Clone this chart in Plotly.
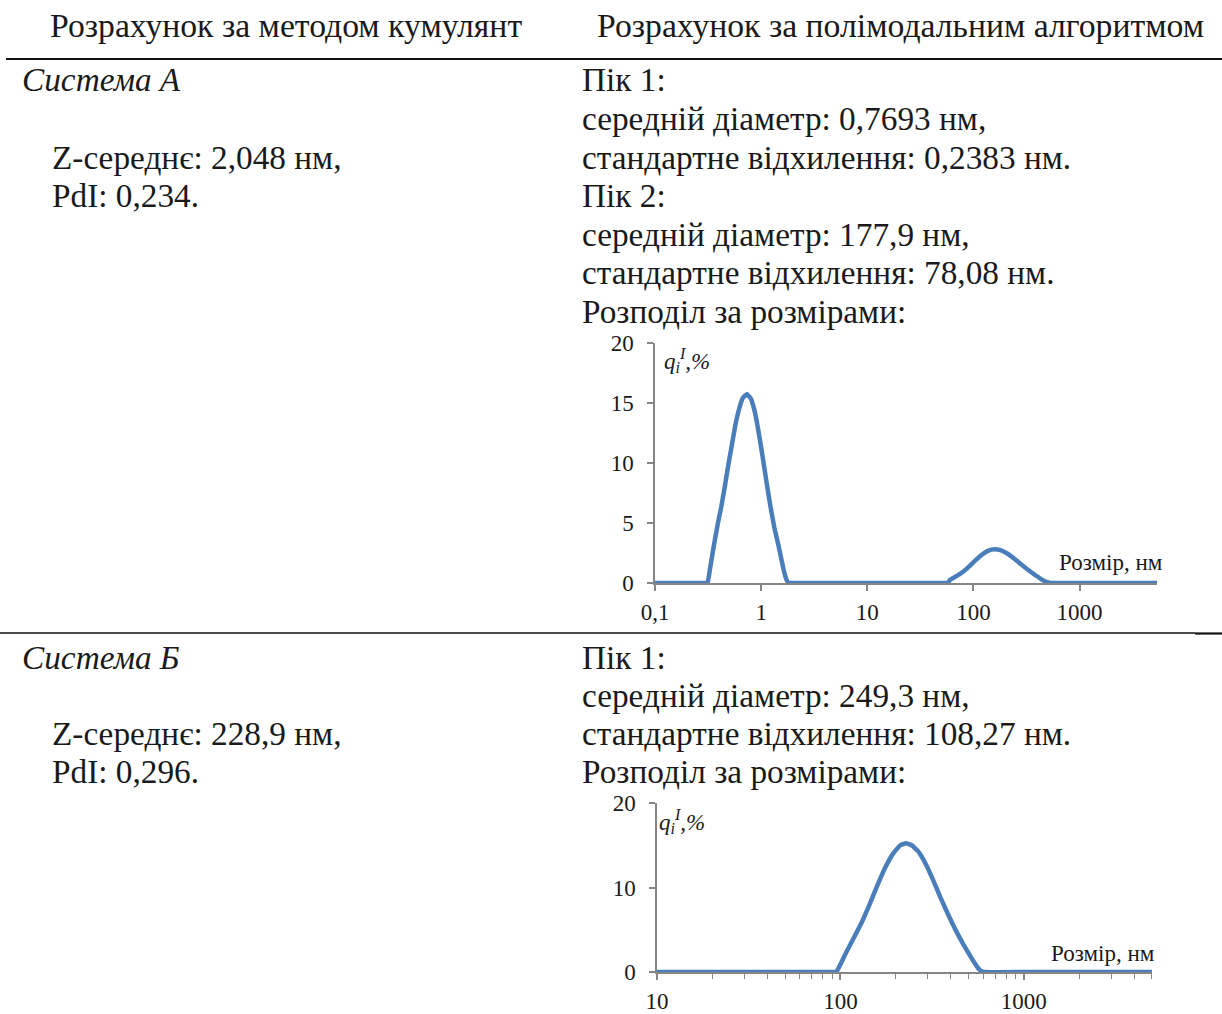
import plotly.graph_objects as go

# ---------------- data ----------------
size_a = [0.1, 0.2, 0.3, 0.313, 0.33, 0.36, 0.39, 0.42, 0.45, 0.49, 0.53, 0.57, 0.62, 0.67,
          0.735, 0.80, 0.87, 0.95, 1.03, 1.12, 1.22, 1.33, 1.45, 1.55, 1.65, 1.74, 1.82, 2, 10,
          50, 57.5, 60, 70, 80, 92, 105, 120, 138, 158, 180, 210, 245, 285, 330, 380, 430,
          480, 530, 1000, 5370]
q_a = [0, 0, 0, 0, 1.2, 3.2, 4.9, 6.3, 7.8, 9.8, 11.5, 13.1, 14.5, 15.4,
       15.75, 15.36, 14.3, 12.5, 10.6, 8.5, 6.45, 4.65, 3.2, 2.0, 0.9, 0.25, 0, 0, 0,
       0, 0, 0.25, 0.59, 0.94, 1.41, 1.9, 2.36, 2.7, 2.82, 2.74, 2.44, 2.0, 1.52, 1.07, 0.68, 0.35,
       0.12, 0, 0, 0]

size_b = [10, 50, 90, 95, 100, 108, 118, 130, 143, 158, 175, 195, 212, 228, 245, 265, 290,
          320, 350, 385, 425, 470, 510, 545, 575, 605, 1000, 5000]
q_b = [0, 0, 0, 0, 0.9, 2.4, 4.0, 5.77, 7.8, 10.1, 12.3, 14.1, 15.0, 15.25, 15.0, 14.3, 12.9,
       10.9, 8.9, 6.9, 4.95, 3.2, 1.9, 0.9, 0.25, 0, 0, 0]

xtick_a_vals = [0.1, 1, 10, 100, 1000]
xtick_a_text = ["0,1", "1", "10", "100", "1000"]
ytick_a = [0, 5, 10, 15, 20]
xtick_b_vals = [10, 100, 1000]
xtick_b_text = ["10", "100", "1000"]
xminor_b = [20, 30, 40, 50, 60, 70, 80, 90, 200, 300, 400, 500, 600, 700, 800, 900,
            2000, 3000, 4000, 5000]
ytick_b = [0, 10, 20]

header_left = "Розрахунок за методом кумулянт"
header_right = "Розрахунок за полімодальним алгоритмом"
sys_a = "Система А"
sys_b = "Система Б"
left_a = ["Z-середнє: 2,048 нм,", "PdI: 0,234."]
left_b = ["Z-середнє: 228,9 нм,", "PdI: 0,296."]
right_a = ["Пік 1:", "середній діаметр: 0,7693 нм,", "стандартне відхилення: 0,2383 нм.",
           "Пік 2:", "середній діаметр: 177,9 нм,", "стандартне відхилення: 78,08 нм.",
           "Розподіл за розмірами:"]
right_b = ["Пік 1:", "середній діаметр: 249,3 нм,", "стандартне відхилення: 108,27 нм.",
           "Розподіл за розмірами:"]
xlabel = "Розмір, нм"
ylabel = "q<sub>i</sub><sup>I</sup>,%"

# ---------------- layout helpers ----------------
W, H = 1222, 1014
SERIF = "Liberation Serif"
TXT = "#1a1a1a"
BLUE = "#4A7EBB"
GRAY = "#868686"
FS = 33.3
FS_HEAD = 33.7


def px(x):
    return x / W


def py(y):
    return 1 - y / H


fig = go.Figure()
fig.add_trace(go.Scatter(x=size_a, y=q_a, mode="lines",
                         line=dict(color=BLUE, width=4.5, shape="spline", smoothing=0.3),
                         xaxis="x", yaxis="y", showlegend=False, hoverinfo="skip"))
fig.add_trace(go.Scatter(x=size_b, y=q_b, mode="lines",
                         line=dict(color=BLUE, width=4.5, shape="spline", smoothing=0.3),
                         xaxis="x2", yaxis="y2", showlegend=False, hoverinfo="skip"))

ann = []


def text(x, y, s, size=FS, italic=False, anchor="left"):
    ann.append(dict(x=px(x), y=py(y), xref="paper", yref="paper", text=s, showarrow=False,
                    xanchor=anchor, yanchor="middle",
                    font=dict(family=SERIF, size=size, color=TXT,
                              style="italic" if italic else "normal")))


text(48, 25, header_left, size=FS_HEAD)
text(595, 25, header_right, size=FS_HEAD)
text(20, 80, sys_a, italic=True)
for i, s in enumerate(left_a):
    text(50, 157 + i * 38.6, s)
for i, s in enumerate(right_a):
    text(580, 80 + i * 38.6, s)
text(20, 657, sys_b, italic=True)
for i, s in enumerate(left_b):
    text(50, 733 + i * 38.3, s)
for i, s in enumerate(right_b):
    text(580, 657 + i * 38.3, s)

text(1165, 562, xlabel, size=23, anchor="right")
text(1157, 953, xlabel, size=23, anchor="right")
text(662, 360, ylabel, size=23, italic=True)
text(657, 821, ylabel, size=23, italic=True)

tickfont = dict(family=SERIF, size=23, color=TXT)
axis_common = dict(showgrid=False, zeroline=False, showline=True, linecolor=GRAY, linewidth=1.5,
                   ticks="outside", tickcolor=GRAY, tickwidth=1.5, ticklen=6, tickfont=tickfont,
                   automargin=False)

fig.update_layout(
    width=W, height=H, margin=dict(l=0, r=0, t=0, b=0, pad=0, autoexpand=False),
    paper_bgcolor="white", plot_bgcolor="white", showlegend=False,
    annotations=ann,
    xaxis=dict(type="log", range=[-1, 3.73], domain=[px(655), px(1157)], anchor="y",
               tickvals=xtick_a_vals, ticktext=xtick_a_text, ticklabelstandoff=2, **axis_common),
    yaxis=dict(range=[0, 20], domain=[py(583), py(343)], anchor="x",
               tickvals=ytick_a, ticktext=[str(v) for v in ytick_a], ticklabelstandoff=9,
               **axis_common),
    xaxis2=dict(type="log", range=[1, 3.699], domain=[px(657), px(1152)], anchor="y2",
                tickvals=xtick_b_vals, ticktext=xtick_b_text, ticklabelstandoff=2,
                minor=dict(ticks="outside", ticklen=5, tickcolor=GRAY, tickwidth=1.2,
                           tickvals=xminor_b),
                **axis_common),
    yaxis2=dict(range=[0, 20], domain=[py(972), py(803)], anchor="x2",
                tickvals=ytick_b, ticktext=[str(v) for v in ytick_b], ticklabelstandoff=9,
                **axis_common),
    shapes=[
        dict(type="line", xref="paper", yref="paper", x0=px(6), x1=1, y0=py(59), y1=py(59),
             line=dict(color="#111111", width=2)),
        dict(type="line", xref="paper", yref="paper", x0=0, x1=px(1195), y0=py(633), y1=py(633),
             line=dict(color="#111111", width=1.3)),
        dict(type="line", xref="paper", yref="paper", x0=px(1195), x1=1, y0=py(633.5),
             y1=py(633.5), line=dict(color="#111111", width=2.2)),
    ],
)

post = ("var s=document.documentElement.style;s.margin='0';s.padding='0';s.overflow='hidden';"
        "var b=document.body.style;b.margin='0';b.padding='0';b.overflow='hidden';")
fig.write_html("out.html", post_script=post, config={"displayModeBar": False})
